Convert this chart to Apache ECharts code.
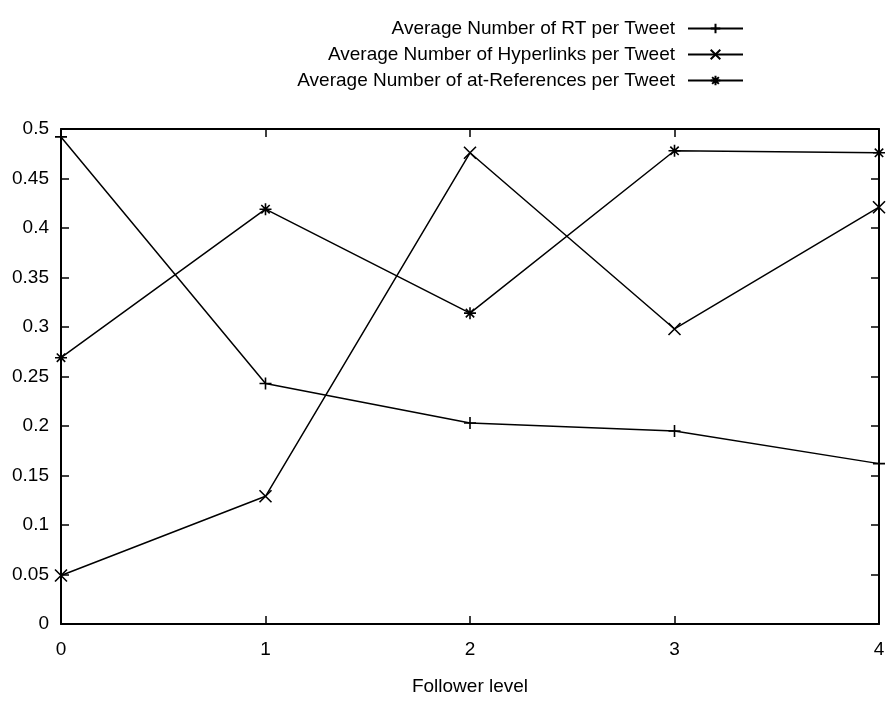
<!DOCTYPE html>
<html><head><meta charset="utf-8">
<script src="https://cdn.jsdelivr.net/npm/echarts@6/dist/echarts.min.js"></script>
<style>html,body{margin:0;padding:0;background:#fff}#c{width:888px;height:701px}</style>
</head><body><div id="c"></div>
<script>
var categories = ['0', '1', '2', '3', '4'];
var seriesNames = ['Average Number of RT per Tweet', 'Average Number of Hyperlinks per Tweet', 'Average Number of at-References per Tweet'];
var rtValues = [0.492, 0.243, 0.203, 0.195, 0.162];
var hyperlinkValues = [0.049, 0.129, 0.476, 0.298, 0.421];
var atRefValues = [0.269, 0.419, 0.314, 0.478, 0.476];
var yTicks = [0, 0.05, 0.1, 0.15, 0.2, 0.25, 0.3, 0.35, 0.4, 0.45, 0.5];

var FONT = '"Liberation Sans", Arial, sans-serif';
var FS = 19;
var symPlus = 'path://M5,0L5,10M0,5L10,5';
var symCross = 'path://M0,0L10,10M10,0L0,10';
var symStar = 'path://M5,0L5,10M0,5L10,5M1.5,1.5L8.5,8.5M8.5,1.5L1.5,8.5';

function mk(name, data, sym) {
  return {
    name: name, type: 'line', data: data, symbol: sym, symbolSize: 12,
    showAllSymbol: true, animation: false,
    lineStyle: { color: '#000', width: 1.5 },
    itemStyle: { color: 'rgba(0,0,0,0)', borderColor: '#000', borderWidth: 1.6 },
    emphasis: { disabled: true }
  };
}
var chart = echarts.init(document.getElementById('c'), null, { renderer: 'canvas' });
chart.setOption({
  backgroundColor: '#fff',
  animation: false,
  textStyle: { fontFamily: FONT },
  grid: { left: 61, right: 9, top: 129, bottom: 72, containLabel: false },
  legend: {
    orient: 'vertical', right: 139, top: 14, align: 'right',
    itemWidth: 55, itemHeight: 12, itemGap: 7,
    data: seriesNames,
    textStyle: { fontFamily: FONT, fontSize: FS, color: '#000', lineHeight: 18, padding: [0, 8, 0, 0] },
    selectedMode: false
  },
  xAxis: [{
    type: 'category', data: categories, boundaryGap: false, position: 'bottom',
    axisLine: { onZero: false, lineStyle: { color: '#000', width: 2 } },
    axisTick: { show: true, interval: 0, inside: true, length: 8, lineStyle: { color: '#000', width: 1.5 } },
    axisLabel: { color: '#000', fontSize: FS, fontFamily: FONT, margin: 16, interval: 0 },
    splitLine: { show: false },
    name: 'Follower level', nameLocation: 'middle', nameGap: 53,
    nameTextStyle: { color: '#000', fontSize: FS, fontFamily: FONT }
  }, {
    type: 'category', data: categories, boundaryGap: false, position: 'top',
    axisLine: { show: true, onZero: false, lineStyle: { color: '#000', width: 2 } },
    axisTick: { show: true, interval: 0, inside: true, length: 8, lineStyle: { color: '#000', width: 1.5 } },
    axisLabel: { show: false, interval: 0 }, splitLine: { show: false }
  }],
  yAxis: [{
    type: 'value', min: 0, max: 0.5, interval: 0.05, position: 'left',
    axisLine: { show: true, onZero: false, lineStyle: { color: '#000', width: 2 } },
    axisTick: { show: true, inside: true, length: 8, lineStyle: { color: '#000', width: 1.5 } },
    axisLabel: { color: '#000', fontSize: FS, fontFamily: FONT, margin: 12,
      formatter: function (v) { return String(Math.round(v * 100) / 100); } },
    splitLine: { show: false }
  }, {
    type: 'value', min: 0, max: 0.5, interval: 0.05, position: 'right',
    axisLine: { show: true, onZero: false, lineStyle: { color: '#000', width: 2 } },
    axisTick: { show: true, inside: true, length: 8, lineStyle: { color: '#000', width: 1.5 } },
    axisLabel: { show: false }, splitLine: { show: false }
  }],
  series: [
    mk(seriesNames[0], rtValues, symPlus),
    mk(seriesNames[1], hyperlinkValues, symCross),
    mk(seriesNames[2], atRefValues, symStar)
  ]
});
</script></body></html>
